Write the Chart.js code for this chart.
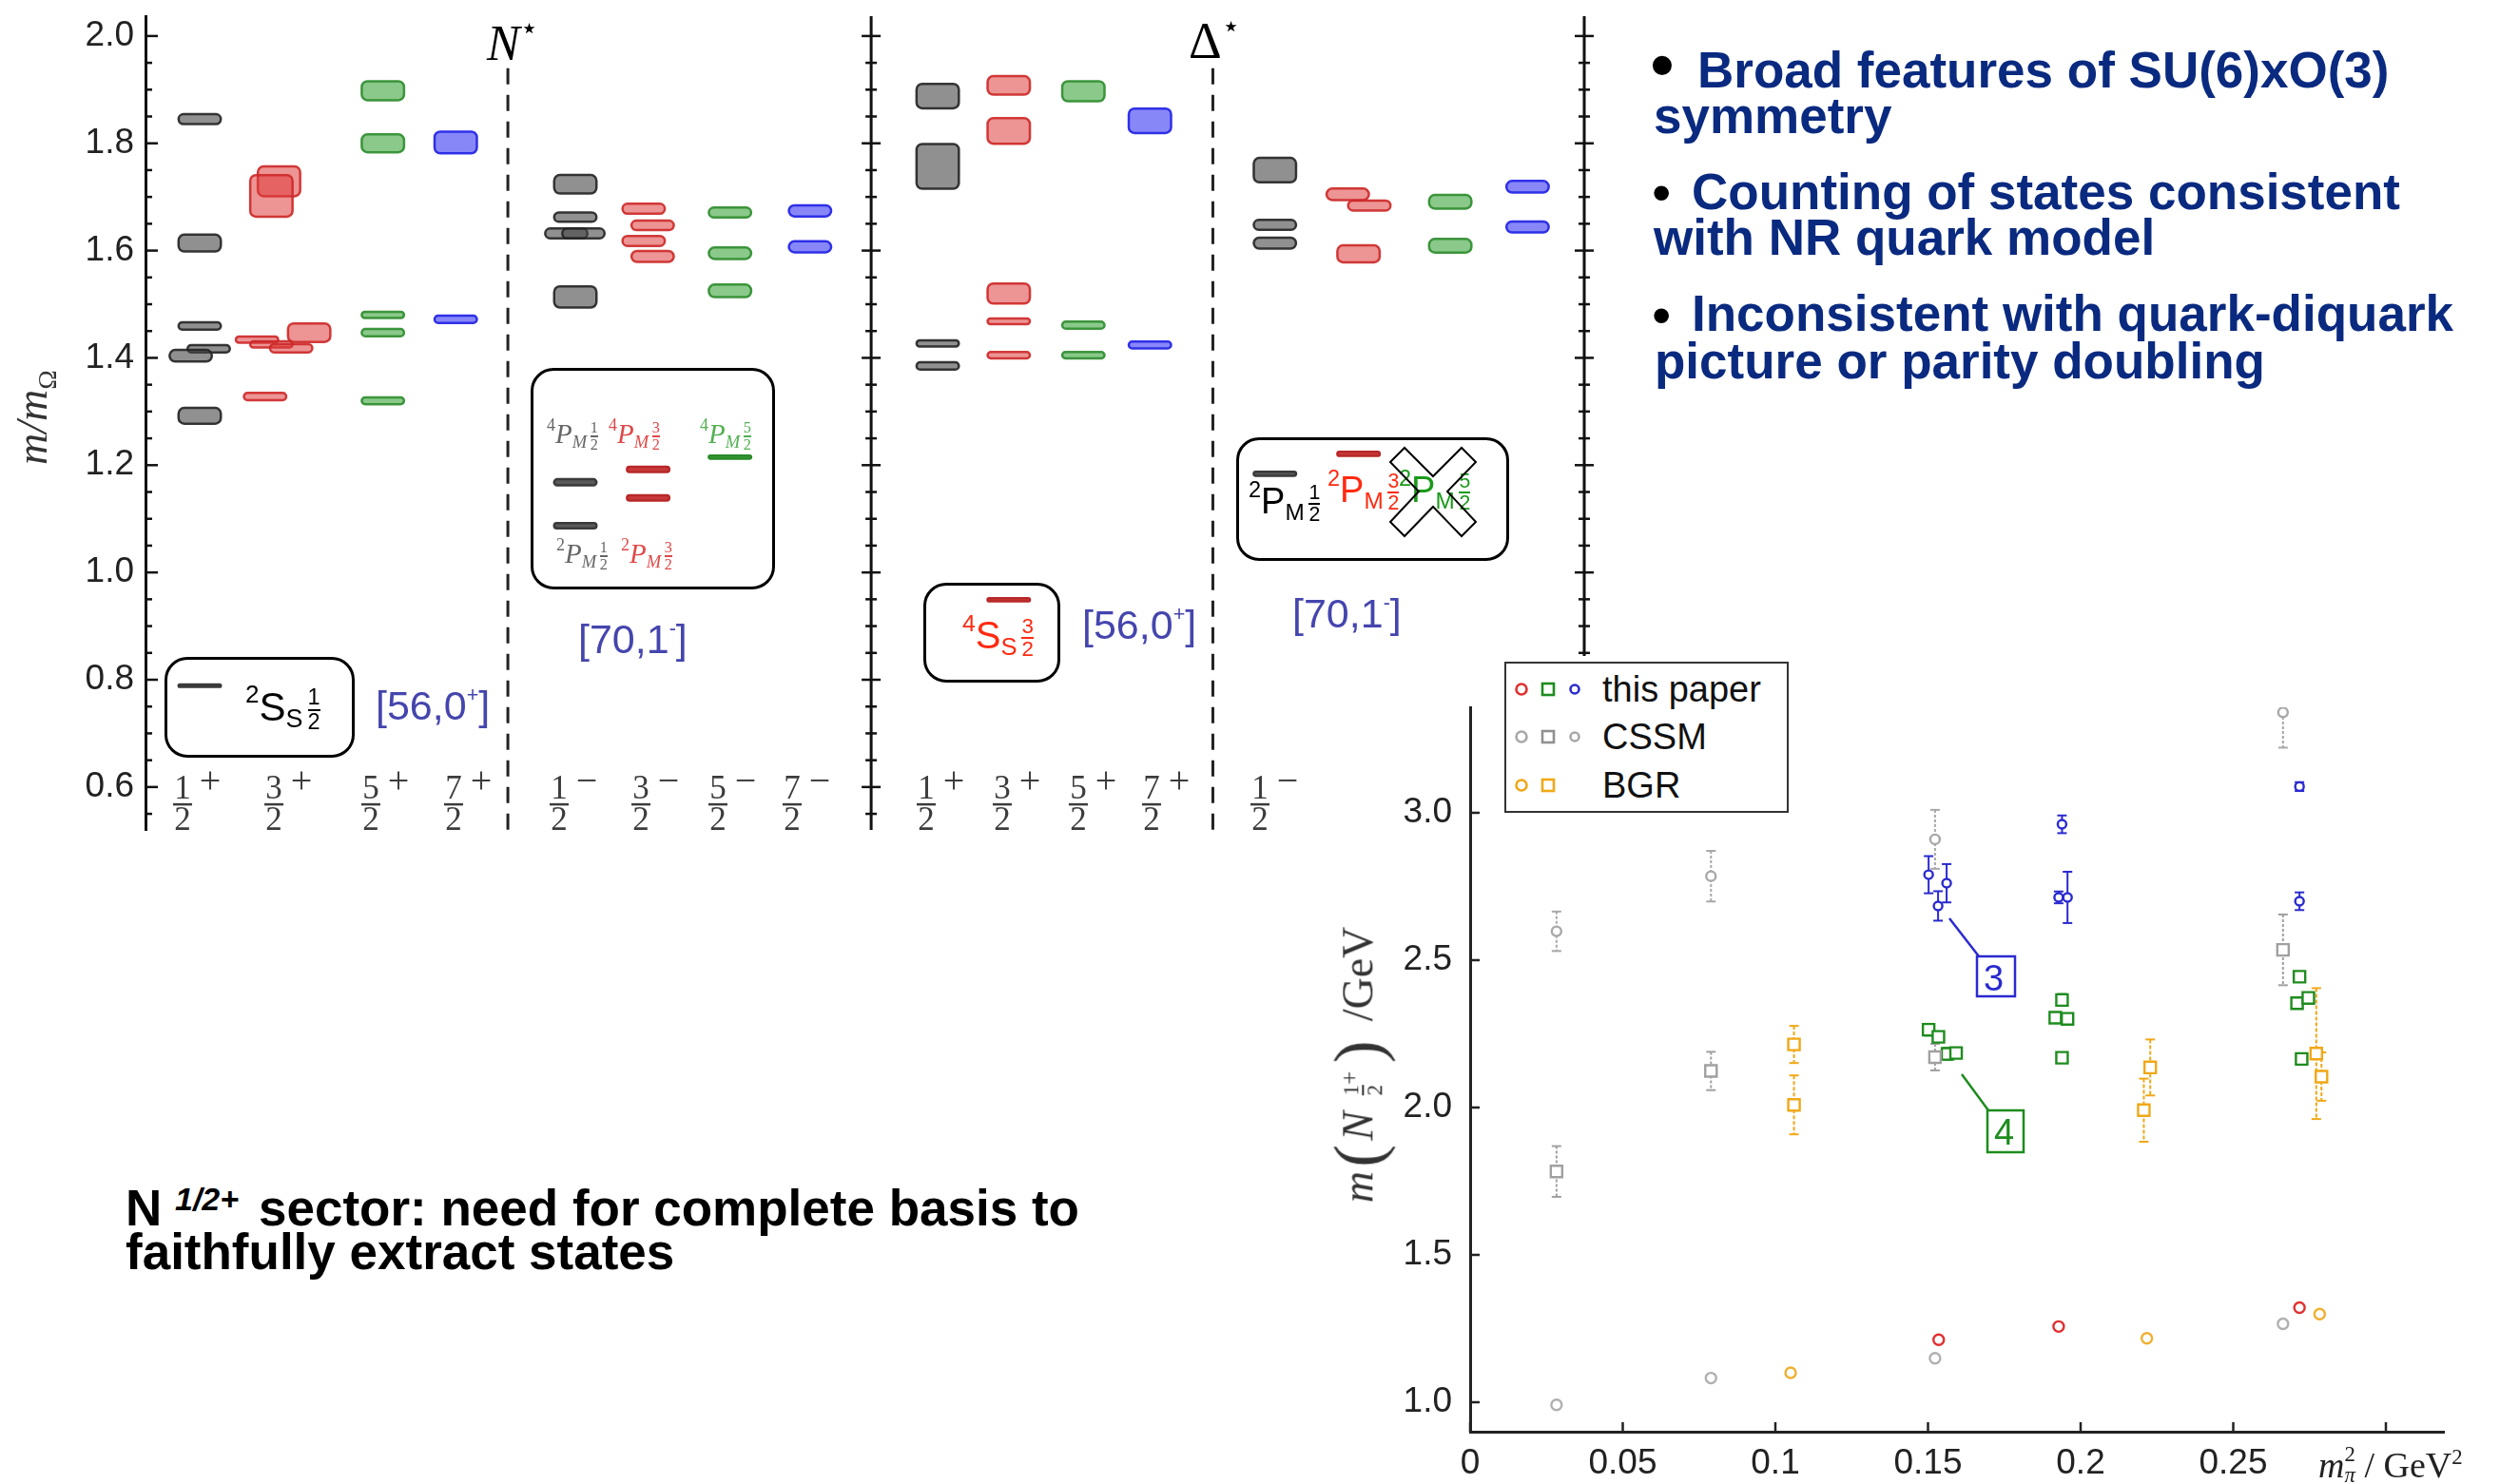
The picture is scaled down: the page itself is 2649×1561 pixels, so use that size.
<!DOCTYPE html>
<html>
<head>
<meta charset="utf-8">
<title>Excited baryon spectrum</title>
<script src="https://cdn.jsdelivr.net/npm/chart.js@4.4.1/dist/chart.umd.min.js"></script>
<style>
  html, body { margin: 0; padding: 0; background: #fff; }
  body { position: relative; width: 2649px; height: 1561px; overflow: hidden; font-family: "Liberation Sans", Arial, sans-serif; }
  .abs { position: absolute; white-space: nowrap; line-height: 1; }
  #spec-wrap { position: absolute; left: 0; top: 0; width: 1700px; height: 900px; }
  #scat-wrap { position: absolute; left: 1368px; top: 690px; width: 1281px; height: 871px; background: #fff; }
  .inset { position: absolute; border: 3px solid #000; border-radius: 24px; box-sizing: border-box; }
  .multiplet { color: #4545ae; font-size: 43px; }
  .t sup { font-size: 0.62em; vertical-align: 0.72em; line-height: 0; }
  .t sub { font-size: 0.64em; vertical-align: -0.28em; line-height: 0; }
  .fr { display: inline-block; vertical-align: middle; text-align: center; font-size: 0.56em; line-height: 1.0; margin-left: 0.22em; }
  .fr span { display: block; }
  .fr .d { border-top: 2px solid currentColor; }
  .serif { font-family: "Liberation Serif", "Times New Roman", serif; }
  .bullets { color: #0a2a80; font-family: "Liberation Sans Narrow", "Arial Narrow", sans-serif; font-weight: bold; font-size: 53px; }
  .dot { color: #000; font-family: "Liberation Sans", Arial, sans-serif; font-weight: normal; }
  .note { color: #000; font-family: "Liberation Sans Narrow", "Arial Narrow", sans-serif; font-weight: bold; font-size: 53px; }
  .legend { position: absolute; left: 1582px; top: 696px; width: 299px; height: 159px; border: 2px solid #333; box-sizing: border-box; background: #fff; }
  .legend-text { font-size: 38px; color: #111; }
  .rot { transform: translate(-50%, -50%) rotate(-90deg); }
  #overlay { position: absolute; left: 0; top: 0; width: 2649px; height: 1561px; pointer-events: none; }
</style>
</head>
<body>
<div id="spec-wrap"><canvas id="spectrum"></canvas></div>
<div id="scat-wrap"><canvas id="masses"></canvas></div>

<!-- spectrum panel labels -->
<div class="abs serif" style="left:37px;top:439px;font-size:46px;font-style:italic;color:#333;" ><div class="rot">m/m<sub style="font-size:0.6em;font-style:normal;">Ω</sub></div></div>
<div class="abs serif" style="left:512px;top:14px;font-size:52px;font-style:italic;">N<span style="font-size:0.6em;vertical-align:0.75em;font-style:normal;font-family:'DejaVu Sans';">⋆</span></div>
<div class="abs serif" style="left:1250px;top:12px;font-size:54px;">Δ<span style="font-size:0.58em;vertical-align:0.75em;font-family:'DejaVu Sans';">⋆</span></div>

<div class="inset" style="left:173px;top:691px;width:200px;height:106px;"></div>
<div class="abs t" style="left:258px;top:722px;font-size:42px;">
  <sup>2</sup>S<sub>S</sub><span class="fr"><span>1</span><span class="d">2</span></span>
</div>
<div class="abs multiplet" style="left:395px;top:721px;">[56,0<sup style="font-size:0.5em;vertical-align:0.9em;">+</sup>]</div>

<div class="inset" style="left:558px;top:387px;width:257px;height:233px;"></div>
<div class="abs t serif" style="left:575px;top:442px;font-size:29px;color:#666;"><sup>4</sup><i>P</i><sub><i>M</i></sub><span class="fr"><span>1</span><span class="d">2</span></span></div>
<div class="abs t serif" style="left:640px;top:442px;font-size:29px;color:#e04848;"><sup>4</sup><i>P</i><sub><i>M</i></sub><span class="fr"><span>3</span><span class="d">2</span></span></div>
<div class="abs t serif" style="left:736px;top:442px;font-size:29px;color:#52b052;"><sup>4</sup><i>P</i><sub><i>M</i></sub><span class="fr"><span>5</span><span class="d">2</span></span></div>
<div class="abs t serif" style="left:585px;top:568px;font-size:29px;color:#666;"><sup>2</sup><i>P</i><sub><i>M</i></sub><span class="fr"><span>1</span><span class="d">2</span></span></div>
<div class="abs t serif" style="left:653px;top:568px;font-size:29px;color:#e04848;"><sup>2</sup><i>P</i><sub><i>M</i></sub><span class="fr"><span>3</span><span class="d">2</span></span></div>
<div class="abs multiplet" style="left:608px;top:651px;">[70,1<sup style="font-size:0.5em;vertical-align:0.9em;">-</sup>]</div>

<div class="inset" style="left:971px;top:613px;width:144px;height:105px;"></div>
<div class="abs t" style="left:1012px;top:648px;font-size:40px;color:#ff2a10;"><sup>4</sup>S<sub>S</sub><span class="fr"><span>3</span><span class="d">2</span></span></div>
<div class="abs multiplet" style="left:1138px;top:636px;">[56,0<sup style="font-size:0.5em;vertical-align:0.9em;">+</sup>]</div>

<div class="inset" style="left:1300px;top:460px;width:287px;height:130px;"></div>
<div class="abs t" style="left:1313px;top:508px;font-size:38px;color:#000;"><sup>2</sup>P<sub>M</sub><span class="fr"><span>1</span><span class="d">2</span></span></div>
<div class="abs t" style="left:1396px;top:496px;font-size:38px;color:#ff2a10;"><sup>2</sup>P<sub>M</sub><span class="fr"><span>3</span><span class="d">2</span></span></div>
<div class="abs t" style="left:1471px;top:496px;font-size:38px;color:#1a9a1a;"><sup>2</sup>P<sub>M</sub><span class="fr"><span>5</span><span class="d">2</span></span></div>
<div class="abs multiplet" style="left:1359px;top:624px;">[70,1<sup style="font-size:0.5em;vertical-align:0.9em;">-</sup>]</div>

<!-- bullet text -->
<div class="abs dot" style="left:1735px;top:32px;font-size:74px;">•</div>
<div class="abs bullets" style="left:1785px;top:47px;">Broad features of SU(6)xO(3)</div>
<div class="abs bullets" style="left:1739px;top:95px;">symmetry</div>
<div class="abs dot" style="left:1737px;top:173px;font-size:58px;">•</div>
<div class="abs bullets" style="left:1779px;top:175px;">Counting of states consistent</div>
<div class="abs bullets" style="left:1739px;top:223px;">with NR quark model</div>
<div class="abs dot" style="left:1737px;top:302px;font-size:58px;">•</div>
<div class="abs bullets" style="left:1779px;top:303px;">Inconsistent with quark-diquark</div>
<div class="abs bullets" style="left:1740px;top:353px;">picture or parity doubling</div>

<div class="abs note" style="left:132px;top:1244px;">N</div>
<div class="abs note" style="left:184px;top:1244px;font-size:34px;font-style:italic;">1/2+</div>
<div class="abs note" style="left:272px;top:1244px;">sector: need for complete basis to</div>
<div class="abs note" style="left:132px;top:1290px;">faithfully extract states</div>

<!-- scatter panel labels -->
<div class="legend"></div>
<div class="abs legend-text" style="left:1685px;top:706px;">this paper</div>
<div class="abs legend-text" style="left:1685px;top:756px;">CSSM</div>
<div class="abs legend-text" style="left:1685px;top:807px;">BGR</div>
<div class="abs serif" style="left:1428px;top:1120px;font-size:46px;color:#333;">
  <div class="rot" style="white-space:nowrap;"><i>m</i><span style="font-size:1.55em;vertical-align:-0.12em;margin:0 0.06em;">(</span><i>N</i>&nbsp;<span class="fr" style="font-size:0.5em;"><span>1</span><span class="d">2</span></span><sup style="font-size:0.55em;">+</sup><span style="font-size:1.55em;vertical-align:-0.12em;margin:0 0.12em;">)</span>&nbsp;/GeV</div>
</div>
<div class="abs serif" style="left:2438px;top:1519px;font-size:38px;color:#222;"><i>m</i><span style="display:inline-block;vertical-align:-0.2em;font-size:0.6em;line-height:0.95;"><span style="display:block;">2</span><span style="display:block;"><i>π</i></span></span> / GeV<sup style="font-size:0.6em;">2</sup></div>
<div class="abs" style="left:2086px;top:1010px;font-size:38px;color:#2a2ad0;">3</div>
<div class="abs" style="left:2097px;top:1172px;font-size:38px;color:#1e8c1e;">4</div>

<svg id="overlay" xmlns="http://www.w3.org/2000/svg">
  <polygon points="1462,486 1477,471 1507,501 1537,471 1552,486 1522,517 1552,549 1537,564 1507,533 1477,564 1462,549 1492,517" fill="none" stroke="#000" stroke-width="2"/>
  <g stroke-width="2.6" fill="#fff">
    <circle cx="1600" cy="725" r="5.5" stroke="#e03030"/>
    <rect x="1622" y="719" width="12" height="12" stroke="#1e8c1e"/>
    <circle cx="1656" cy="725" r="4.5" stroke="#2a2ad0"/>
    <circle cx="1600" cy="775" r="5.5" stroke="#a8a8a8"/>
    <rect x="1622" y="769" width="12" height="12" stroke="#909090"/>
    <circle cx="1656" cy="775" r="4.5" stroke="#a8a8a8"/>
    <circle cx="1600" cy="826" r="5.5" stroke="#f0a818"/>
    <rect x="1622" y="820" width="12" height="12" stroke="#f0a818"/>
  </g>
  <g fill="none" stroke-width="2.5">
    <line x1="2050" y1="966" x2="2081" y2="1006" stroke="#2a2ad0"/>
    <rect x="2079" y="1006" width="40" height="42" stroke="#2a2ad0"/>
    <line x1="2063" y1="1130" x2="2091" y2="1168" stroke="#1e8c1e"/>
    <rect x="2090" y="1168" width="38" height="44" stroke="#1e8c1e"/>
  </g>
</svg>

<script>
// ---- spectrum (m / m_Omega) ----
const spinLabels = ['1/2+', '3/2+', '5/2+', '7/2+', '1/2-', '3/2-', '5/2-', '7/2-'];
const spectrumTicks = [0.6, 0.8, 1.0, 1.2, 1.4, 1.6, 1.8, 2.0];

const nucleonMass = [
    [1.845, 1.614, 1.4595, 1.417, 1.404, 1.292],
    [1.729, 1.702, 1.447, 1.434, 1.425, 1.418, 1.328],
    [1.898, 1.800, 1.480, 1.447, 1.320],
    [1.8015, 1.472],
    [1.7236, 1.6624, 1.632, 1.632, 1.5136],
    [1.678, 1.647, 1.618, 1.589],
    [1.671, 1.595, 1.525],
    [1.674, 1.607]
];
const nucleonError = [
    [0.0115, 0.018, 0.009, 0.009, 0.013, 0.017],
    [0.030, 0.041, 0.0195, 0.008, 0.008, 0.010, 0.009],
    [0.020, 0.019, 0.008, 0.009, 0.0085],
    [0.0225, 0.009],
    [0.0195, 0.011, 0.0115, 0.0115, 0.022],
    [0.0115, 0.011, 0.0115, 0.0125],
    [0.0115, 0.013, 0.014],
    [0.0125, 0.0125]
];
const deltaMass = [
    [1.888, 1.757, 1.427, 1.385],
    [1.908, 1.823, 1.520, 1.468, 1.405],
    [1.897, 1.461, 1.405],
    [1.842, 1.424],
    [1.750, 1.648, 1.614],
    [1.705, 1.684, 1.594],
    [1.691, 1.609],
    [1.719, 1.644]
];
const deltaError = [
    [0.025, 0.044, 0.008, 0.009],
    [0.0195, 0.026, 0.021, 0.0075, 0.008],
    [0.021, 0.009, 0.008],
    [0.025, 0.0085],
    [0.025, 0.0115, 0.0125],
    [0.013, 0.0115, 0.018],
    [0.015, 0.015],
    [0.013, 0.0125]
];
// levels repeated inside the annotation boxes
const nucleonInsetMass = [[0.789], [], [], [], [1.168, 1.087], [1.192, 1.139], [1.215], []];
const nucleonInsetError = [[0.0045], [], [], [], [0.008, 0.007], [0.007, 0.007], [0.005], []];
const deltaInsetMass = [[], [0.949], [], [], [1.184], [1.221], [], []];
const deltaInsetError = [[], [0.005], [], [], [0.006], [0.006], [], []];

// where the J^P columns and their labels sit on the x scale (0..16), plus side-by-side nudges
const columnX = [0.603, 1.40, 2.64, 3.45, 4.78, 5.59, 6.50, 7.39,
                 8.81, 9.60, 10.43, 11.17, 12.56, 13.49, 14.51, 15.37];
const labelX = [0.412, 1.428, 2.506, 3.426, 4.600, 5.510, 6.366, 7.191,
                8.682, 9.528, 10.374, 11.188, 12.394, 13.34, 14.35, 15.22];
const nucleonNudge = [[0, 0, 0, 0.10, -0.10, 0], [0.085, 0, 0.42, -0.16, 0, 0.22, -0.07], [], [],
                      [0, 0, -0.10, 0.09, 0], [-0.05, 0.05, -0.05, 0.05], [], []];
const deltaNudge = [[], [], [], [], [], [-0.12, 0.12, 0], [], []];
const dividers = { nDash: 4.03, middle: 8.07, dDash: 11.87, right: 16 };
const dashTop = 1.94;

const tones = {
    gray:  { fill: 'rgba(70,70,70,0.6)',   line: 'rgba(35,35,35,0.9)' },
    red:   { fill: 'rgba(222,60,60,0.55)', line: 'rgba(205,40,40,0.9)' },
    green: { fill: 'rgba(60,165,60,0.6)',  line: 'rgba(45,140,45,0.9)' },
    blue:  { fill: 'rgba(70,70,245,0.65)', line: 'rgba(40,40,230,0.95)' }
};
const insetTones = {
    gray:  { fill: '#5a5a5a', line: '#3a3a3a' },
    red:   { fill: '#c83a3a', line: '#b82828' },
    green: { fill: '#3aa03a', line: '#2a8a2a' },
    blue:  { fill: '#4444e0', line: '#3030c0' }
};
const toneOf = ['gray', 'red', 'green', 'blue', 'gray', 'red', 'green', 'blue'];
const BOX_W = 47;

// ---- N(1/2+) masses vs m_pi^2 ----
const xTickValues = [0, 0.05, 0.1, 0.15, 0.2, 0.25, 0.3];
const xTickLabels = ['0', '0.05', '0.1', '0.15', '0.2', '0.25', ''];
const yTickValues = [1.0, 1.5, 2.0, 2.5, 3.0];
const yTickLabels = ['1.0', '1.5', '2.0', '2.5', '3.0'];

// this paper
const oursGroundX = [0.1535, 0.1928, 0.2717];
const oursGroundM = [1.212, 1.257, 1.321];
const oursSquareX = [0.1502, 0.1534, 0.1564, 0.1592, 0.1939, 0.1917, 0.1957, 0.1939, 0.2717, 0.2709, 0.2746, 0.2724];
const oursSquareM = [2.264, 2.240, 2.182, 2.185, 2.365, 2.305, 2.301, 2.169, 2.444, 2.354, 2.372, 2.165];
const oursSquareErr = [0.02, 0.015, 0.02, 0.015, 0.02, 0.015, 0.015, 0.015, 0.012, 0.015, 0.015, 0.015];
const oursHighX = [0.1502, 0.1533, 0.1561, 0.1939, 0.1928, 0.1957, 0.2717, 0.2717];
const oursHighM = [2.790, 2.684, 2.761, 2.961, 2.713, 2.713, 3.089, 2.700];
const oursHighErr = [0.063, 0.05, 0.065, 0.03, 0.02, 0.087, 0.015, 0.03];
// CSSM
const cssmX = [0.0283, 0.0789, 0.1523, 0.2663];
const cssmGroundM = [0.991, 1.082, 1.149, 1.266];
const cssmSquareM = [1.783, 2.124, 2.171, 2.535];
const cssmSquareErr = [0.086, 0.065, 0.045, 0.12];
const cssmHighM = [2.598, 2.785, 2.910, 3.341];
const cssmHighErr = [0.067, 0.086, 0.10, 0.12];
// BGR
const bgrGroundX = [0.105, 0.2217, 0.2783];
const bgrGroundM = [1.100, 1.217, 1.299];
const bgrSquareX = [0.1061, 0.1061, 0.2228, 0.2207, 0.2772, 0.2789];
const bgrSquareM = [2.214, 2.009, 2.136, 1.991, 2.183, 2.105];
const bgrSquareErr = [0.063, 0.10, 0.095, 0.107, 0.222, 0.082];

Chart.defaults.font.family = '"Liberation Sans", Arial, sans-serif';
Chart.defaults.animation = false;

function line(ctx, x1, y1, x2, y2) {
    ctx.beginPath();
    ctx.moveTo(x1, y1);
    ctx.lineTo(x2, y2);
    ctx.stroke();
}

function levelSets(masses, errors, nudges, firstCol, inset) {
    return masses.map((ms, c) => ({
        label: spinLabels[c],
        data: ms.map((m, i) => ({ x: columnX[firstCol + c] + ((nudges[c] || [])[i] || 0), y: m })),
        errors: errors[c],
        tone: toneOf[c],
        inset: inset,
        pointRadius: 0,
        pointHoverRadius: 0
    }));
}

const levelBoxes = {
    id: 'levelBoxes',
    afterDatasetsDraw(chart) {
        const { ctx } = chart;
        const y = chart.scales.y;
        ctx.save();
        chart.data.datasets.forEach((ds, di) => {
            const tone = ds.inset ? insetTones[ds.tone] : tones[ds.tone];
            chart.getDatasetMeta(di).data.forEach((pt, i) => {
                const e = ds.errors[i];
                const top = y.getPixelForValue(ds.data[i].y + e) + 1.25;
                const bottom = y.getPixelForValue(ds.data[i].y - e) - 1.25;
                const h = Math.max(bottom - top, 2);
                ctx.beginPath();
                ctx.roundRect(pt.x - BOX_W / 2 + 1.25, top, BOX_W - 2.5, h, Math.min(6, h / 2));
                ctx.fillStyle = tone.fill;
                ctx.fill();
                ctx.lineWidth = 2.5;
                ctx.strokeStyle = tone.line;
                ctx.stroke();
            });
        });
        ctx.restore();
    }
};

const spectrumFrame = {
    id: 'spectrumFrame',
    beforeDatasetsDraw(chart) {
        const { ctx, chartArea: a, scales: { x, y } } = chart;
        ctx.save();
        ctx.strokeStyle = '#111';
        ctx.lineWidth = 3;
        [dividers.middle, dividers.right].forEach(v => {
            const px = x.getPixelForValue(v);
            line(ctx, px, a.top, px, a.bottom);
        });
        ctx.lineWidth = 2.5;
        for (let k = 0; k < 30; k++) {
            const v = 0.55 + k * 0.05;
            const major = spectrumTicks.some(t => Math.abs(t - v) < 1e-6);
            const py = y.getPixelForValue(v);
            line(ctx, a.left, py, a.left + (major ? 13 : 7), py);
            [dividers.middle, dividers.right].forEach(d => {
                const px = x.getPixelForValue(d);
                const len = major ? 10 : 6;
                line(ctx, px - len, py, px + len, py);
            });
        }
        ctx.lineWidth = 3;
        ctx.strokeStyle = '#222';
        ctx.setLineDash([17, 11]);
        [dividers.nDash, dividers.dDash].forEach(v => {
            const px = x.getPixelForValue(v);
            line(ctx, px, y.getPixelForValue(dashTop), px, a.bottom);
        });
        ctx.restore();
    },
    afterDraw(chart) {
        const { ctx, scales: { x, y } } = chart;
        const base = y.getPixelForValue(0.6);
        ctx.save();
        ctx.fillStyle = '#3c3c3c';
        ctx.textAlign = 'center';
        ctx.textBaseline = 'alphabetic';
        labelX.forEach((lx, i) => {
            const lab = spinLabels[i % spinLabels.length];
            const num = lab.split('/')[0];
            const den = lab.split('/')[1][0];
            const sign = lab.endsWith('+') ? '+' : '\u2212';
            const fx = x.getPixelForValue(lx);
            ctx.font = '35px "Liberation Serif", serif';
            ctx.fillText(num, fx, base + 12);
            ctx.fillRect(fx - 10, base + 17, 20, 2.5);
            ctx.fillText(den, fx, base + 45);
            ctx.font = '40px "Liberation Serif", serif';
            ctx.fillText(sign, fx + 29, base + 6);
        });
        ctx.restore();
    }
};

const spectrumSets = []
    .concat(levelSets(nucleonMass, nucleonError, nucleonNudge, 0, false))
    .concat(levelSets(deltaMass, deltaError, deltaNudge, 8, false))
    .concat(levelSets(nucleonInsetMass, nucleonInsetError, [], 0, true))
    .concat(levelSets(deltaInsetMass, deltaInsetError, [], 8, true));

new Chart(document.getElementById('spectrum'), {
    type: 'scatter',
    data: { datasets: spectrumSets },
    options: {
        responsive: true,
        maintainAspectRatio: false,
        devicePixelRatio: 1,
        events: [],
        layout: { padding: { left: 0, top: 17, right: 34, bottom: 27 } },
        plugins: { legend: { display: false }, tooltip: { enabled: false } },
        scales: {
            x: { type: 'linear', min: 0, max: 16, display: false },
            y: {
                min: 0.52,
                max: 2.037,
                afterBuildTicks: s => { s.ticks = spectrumTicks.map(v => ({ value: v })); },
                afterFit: s => { s.width = 153; s.paddingTop = 0; s.paddingBottom = 0; },
                ticks: { padding: 12, color: '#222', font: { size: 37 }, callback: v => v.toFixed(1) },
                grid: { display: false, drawTicks: false },
                border: { display: true, color: '#111', width: 3 }
            }
        }
    },
    plugins: [spectrumFrame, levelBoxes]
});

// ---- scatter panel ----
function points(xs, ms) {
    return ms.map((m, i) => ({ x: xs[i], y: m }));
}

const errorBars = {
    id: 'errorBars',
    beforeDatasetsDraw(chart) {
        const { ctx, chartArea: a, scales: { y } } = chart;
        ctx.save();
        chart.data.datasets.forEach((ds, di) => {
            if (!ds.errors) return;
            const meta = chart.getDatasetMeta(di);
            ctx.strokeStyle = ds.borderColor;
            ctx.lineWidth = 2;
            ds.errors.forEach((e, i) => {
                const pt = meta.data[i];
                const t = y.getPixelForValue(ds.data[i].y + e);
                const b = y.getPixelForValue(ds.data[i].y - e);
                ctx.setLineDash(ds.errorDash || []);
                line(ctx, pt.x, Math.max(t, a.top), pt.x, Math.min(b, a.bottom));
                ctx.setLineDash([]);
                if (t >= a.top) line(ctx, pt.x - 5, t, pt.x + 5, t);
                if (b <= a.bottom) line(ctx, pt.x - 5, b, pt.x + 5, b);
            });
        });
        ctx.restore();
    }
};

const scatterFrame = {
    id: 'scatterFrame',
    afterDraw(chart) {
        const { ctx, chartArea: a, scales: { x, y } } = chart;
        ctx.save();
        ctx.strokeStyle = '#222';
        ctx.lineWidth = 2.5;
        xTickValues.forEach(v => {
            const px = x.getPixelForValue(v);
            line(ctx, px, a.bottom, px, a.bottom - 10);
        });
        yTickValues.forEach(v => {
            const py = y.getPixelForValue(v);
            line(ctx, a.left, py, a.left + 10, py);
        });
        ctx.restore();
    }
};

function markerSet(label, data, colour, style, radius, errors, dash) {
    return {
        label: label,
        data: data,
        errors: errors,
        errorDash: dash,
        borderColor: colour,
        backgroundColor: '#fff',
        pointStyle: style,
        pointRadius: radius,
        pointBorderWidth: 2.4,
        pointBackgroundColor: '#fff',
        pointBorderColor: colour
    };
}

new Chart(document.getElementById('masses'), {
    type: 'scatter',
    data: {
        datasets: [
            markerSet('CSSM ground', points(cssmX, cssmGroundM), '#b0b0b0', 'circle', 5.5),
            markerSet('CSSM square', points(cssmX, cssmSquareM), '#a0a0a0', 'rect', 8.5, cssmSquareErr, [3, 2]),
            markerSet('CSSM high', points(cssmX, cssmHighM), '#a8a8a8', 'circle', 5, cssmHighErr, [3, 2]),
            markerSet('BGR ground', points(bgrGroundX, bgrGroundM), '#f0b030', 'circle', 5.5),
            markerSet('BGR square', points(bgrSquareX, bgrSquareM), '#f0a818', 'rect', 8.5, bgrSquareErr, [4, 2]),
            markerSet('this paper ground', points(oursGroundX, oursGroundM), '#e03030', 'circle', 5.5),
            markerSet('this paper square', points(oursSquareX, oursSquareM), '#1e8c1e', 'rect', 8.5, oursSquareErr),
            markerSet('this paper high', points(oursHighX, oursHighM), '#2a2ad0', 'circle', 4.5, oursHighErr)
        ]
    },
    options: {
        responsive: true,
        maintainAspectRatio: false,
        devicePixelRatio: 1,
        events: [],
        layout: { padding: { left: 0, top: 54, right: 79, bottom: 0 } },
        plugins: { legend: { display: false }, tooltip: { enabled: false } },
        scales: {
            x: {
                type: 'linear',
                min: 0,
                max: 0.319,
                afterBuildTicks: s => { s.ticks = xTickValues.map(v => ({ value: v })); },
                afterFit: s => { s.height = 55; s.paddingLeft = 0; s.paddingRight = 0; },
                ticks: { padding: 12, color: '#222', font: { size: 37 }, autoSkip: false, maxRotation: 0,
                         callback: (v, i) => xTickLabels[i] },
                grid: { display: false, drawTicks: false },
                border: { display: true, color: '#222', width: 3 }
            },
            y: {
                min: 0.9,
                max: 3.358,
                afterBuildTicks: s => { s.ticks = yTickValues.map(v => ({ value: v })); },
                afterFit: s => { s.width = 178; s.paddingTop = 0; s.paddingBottom = 0; },
                ticks: { padding: 19, color: '#222', font: { size: 37 }, callback: (v, i) => yTickLabels[i] },
                grid: { display: false, drawTicks: false },
                border: { display: true, color: '#222', width: 3 }
            }
        }
    },
    plugins: [errorBars, scatterFrame]
});
</script>
</body>
</html>
